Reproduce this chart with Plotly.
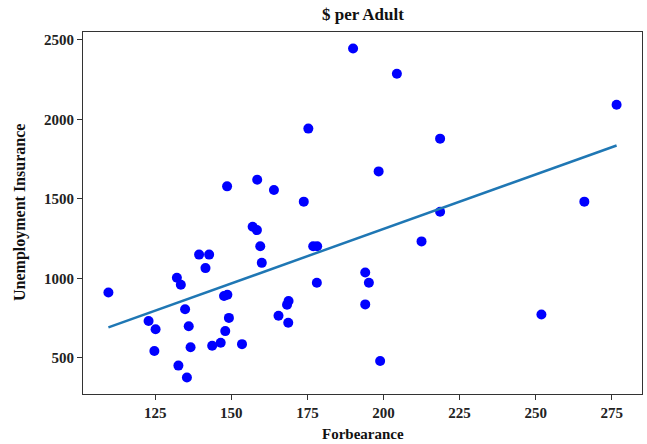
import numpy as np
import plotly.graph_objects as go

forbearance = [109.6, 122.8, 125.1, 124.7, 132.1, 133.4, 134.8, 136.0, 136.6, 132.6,
               135.4, 139.4, 142.7, 141.5, 143.7, 146.5, 147.6, 148.7, 149.2, 148.0,
               148.6, 153.5, 157.0, 158.4, 159.5, 160.0, 158.5, 164.0, 165.5, 168.3,
               168.8, 168.7, 173.8, 175.3, 176.9, 178.2, 178.1, 190.0, 194.0, 195.2,
               194.0, 198.4, 198.9, 204.4, 212.5, 218.6, 218.6, 251.9, 266.0, 276.6]
unemployment = [912, 733, 681, 544, 1004, 960, 806, 700, 567, 452,
                377, 1150, 1150, 1065, 577, 596, 890, 898, 752, 669,
                1579, 587, 1325, 1304, 1202, 1098, 1621, 1556, 765, 835,
                858, 721, 1483, 1942, 1202, 1202, 973, 2446, 1037, 973,
                837, 1673, 481, 2287, 1233, 1879, 1419, 773, 1483, 2092]

x_ticks = [125, 150, 175, 200, 225, 250, 275]
y_ticks = [500, 1000, 1500, 2000, 2500]

x = np.array(forbearance)
y = np.array(unemployment)
slope, intercept = np.polyfit(x, y, 1)
order = np.argsort(x)
fit_x = x[order]
fit_y = slope * fit_x + intercept

def padded(a):
    lo, hi = float(np.min(a)), float(np.max(a))
    m = (hi - lo) * 0.05
    return [lo - m, hi + m]

font = "Liberation Serif, Times New Roman, serif"
W, H = 647, 444
ML, MR, MT, MB = 83, 5, 32, 50
PW, PH = W - ML - MR, H - MT - MB

fig = go.Figure()
fig.add_trace(go.Scatter(x=forbearance, y=unemployment, mode="markers",
                         marker=dict(color="#0000ff", size=10, line=dict(width=0)),
                         showlegend=False))
fig.add_trace(go.Scatter(x=fit_x, y=fit_y, mode="lines",
                         line=dict(color="#1f77b4", width=2.5),
                         showlegend=False))

axis_common = dict(showline=True, linecolor="#333333", linewidth=1.2, mirror=True,
                   ticks="outside", ticklen=5, tickcolor="#333333", showgrid=False,
                   zeroline=False, automargin=False,
                   tickfont=dict(family=font, size=15, color="#222222", weight="bold"))

fig.update_layout(
    width=W, height=H,
    margin=dict(l=ML, r=MR, t=MT, b=MB, autoexpand=False),
    paper_bgcolor="white", plot_bgcolor="white",
    xaxis=dict(range=padded(x), tickvals=x_ticks, **axis_common),
    yaxis=dict(range=padded(y), tickvals=y_ticks, **axis_common),
    annotations=[
        dict(text="$ per Adult", xref="paper", yref="paper",
             x=0.5, y=1 + (MT - 15) / PH, xanchor="center", yanchor="middle",
             showarrow=False,
             font=dict(family=font, size=17, color="#111111", weight="bold")),
        dict(text="Forbearance", xref="paper", yref="paper",
             x=0.5, y=-(434 - (MT + PH)) / PH, xanchor="center", yanchor="middle",
             showarrow=False,
             font=dict(family=font, size=15, color="#111111", weight="bold")),
        dict(text="Unemployment Insurance", xref="paper", yref="paper",
             x=(20 - ML) / PW, y=1 - (213 - MT) / PH, xanchor="center", yanchor="middle",
             textangle=-90, showarrow=False,
             font=dict(family=font, size=16, color="#111111", weight="bold")),
    ],
)

fig.write_html("out.html", config={"displayModeBar": False},
               post_script="document.body.style.margin='0';document.body.style.overflow='hidden';")
